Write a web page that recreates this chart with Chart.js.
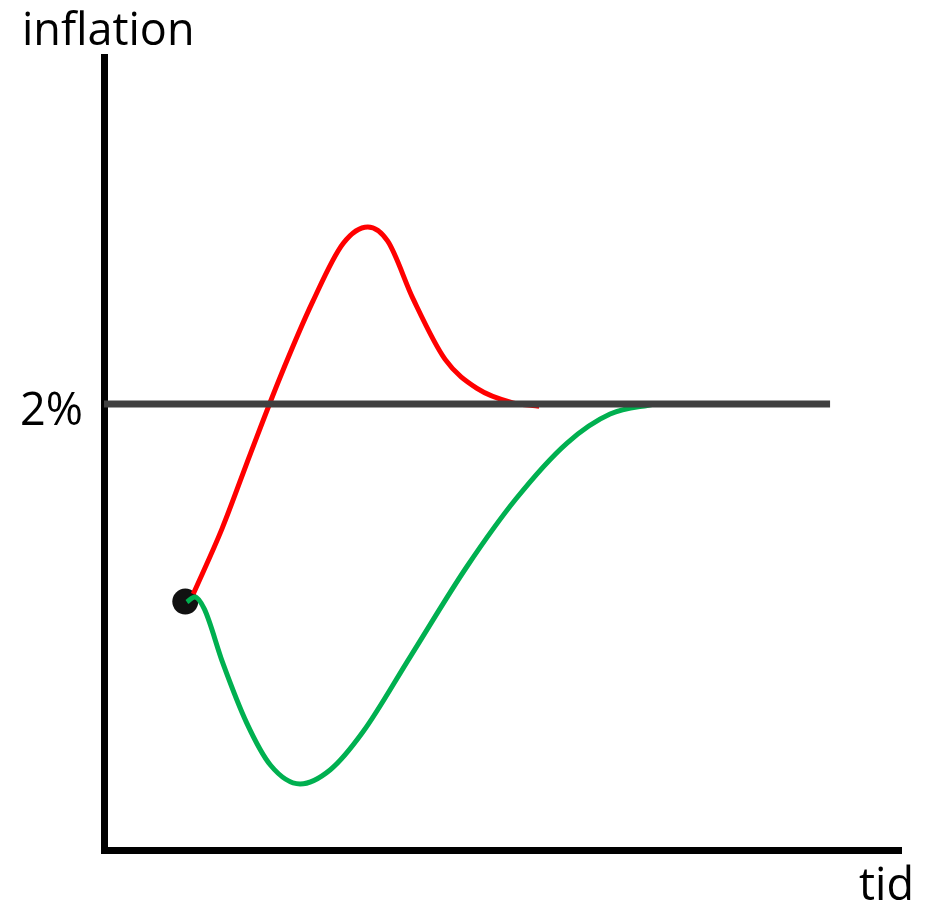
<!DOCTYPE html>
<html>
<head>
<meta charset="utf-8">
<script src="https://cdn.jsdelivr.net/npm/chart.js@4"></script>
<style>
  html, body { margin: 0; padding: 0; background: #fff; }
  #wrap { width: 937px; height: 906px; }
</style>
</head>
<body>
<div id="wrap"><canvas id="chart"></canvas></div>
<script>
// time (0-100) and inflation (%)
const redTime = [11.2, 14.8, 18.4, 22.1, 26.2, 30.0, 33.1, 35.6, 38.8, 42.8, 46.8, 51.3, 54.6];
const redInfl = [1.148, 1.44, 1.78, 2.12, 2.46, 2.72, 2.794, 2.73, 2.47, 2.20, 2.07, 2.005, 1.99];

const greenTime = [10.4, 11.4, 12.6, 14.9, 17.9, 20.9, 24.6, 28.4, 32.5, 38.4, 45.5, 51.7, 58.1, 63.5, 69.1];
const greenInfl = [1.112, 1.135, 1.08, 0.839, 0.57, 0.38, 0.296, 0.36, 0.53, 0.865, 1.269, 1.575, 1.825, 1.955, 2.0];

const targetTime = [0, 91.1];
const targetInfl = [2, 2];

const startTime = [10.2];
const startInfl = [1.114];

const yLabels = ['2%'];
const yTickValues = [2];

const pts = (xs, ys) => xs.map((x, i) => ({ x: x, y: ys[i] }));

const labelPlugin = {
  id: 'labels',
  afterDraw(chart) {
    const ctx = chart.ctx;
    const y = chart.scales.y;
    ctx.save();
    ctx.fillStyle = '#000';
    ctx.font = '45px "Open Sans"';
    ctx.textBaseline = 'alphabetic';
    ctx.textAlign = 'left';
    ctx.fillText('inflation', 22, 45);
    ctx.textAlign = 'right';
    yTickValues.forEach((v, i) => {
      ctx.fillText(yLabels[i], 83, y.getPixelForValue(v) + 21);
    });
    ctx.fillText('tid', 914, 900);
    ctx.restore();
  }
};

new Chart(document.getElementById('chart'), {
  type: 'line',
  data: {
    datasets: [
      {
        label: '2%',
        data: pts(targetTime, targetInfl),
        borderColor: '#404040',
        borderWidth: 7,
        pointRadius: 0,
        order: 0
      },
      {
        label: 'green',
        data: pts(greenTime, greenInfl),
        borderColor: '#00b050',
        borderWidth: 5,
        pointRadius: 0,
        cubicInterpolationMode: 'monotone',
        order: 1
      },
      {
        label: 'red',
        data: pts(redTime, redInfl),
        borderColor: '#ff0000',
        borderWidth: 5,
        pointRadius: 0,
        cubicInterpolationMode: 'monotone',
        order: 2
      },
      {
        label: 'start',
        data: pts(startTime, startInfl),
        showLine: false,
        pointRadius: 13,
        pointBackgroundColor: '#111',
        pointBorderWidth: 0,
        order: 3
      }
    ]
  },
  options: {
    responsive: true,
    maintainAspectRatio: false,
    animation: false,
    layout: {
      padding: { left: 104, top: 57, right: 36, bottom: 56 }
    },
    plugins: {
      legend: { display: false },
      tooltip: { enabled: false }
    },
    scales: {
      x: {
        type: 'linear',
        min: 0,
        max: 100,
        grid: { display: false, drawTicks: false },
        ticks: { display: false },
        border: { color: '#000', width: 7 }
      },
      y: {
        min: 0,
        max: 3.556,
        grid: { display: false, drawTicks: false },
        ticks: { display: false },
        border: { color: '#000', width: 7 }
      }
    }
  },
  plugins: [labelPlugin]
});
</script>
</body>
</html>
